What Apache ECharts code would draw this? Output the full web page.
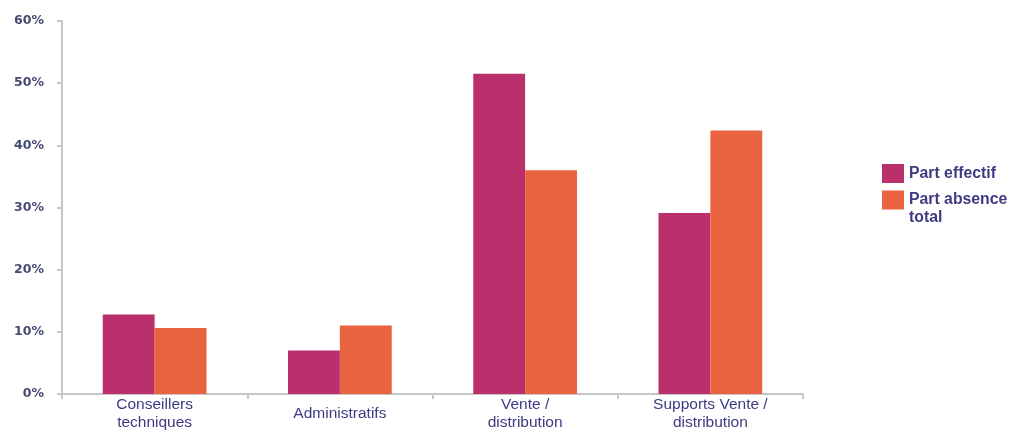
<!DOCTYPE html>
<html>
<head>
<meta charset="utf-8">
<script src="https://cdn.jsdelivr.net/npm/echarts@6/dist/echarts.min.js"></script>
<style>
  html, body { margin: 0; padding: 0; background: #ffffff; overflow: hidden; }
  #chart { width: 1011px; height: 432px; }
</style>
</head>
<body>
<div id="chart"></div>
<script>
// Job categories and the two shares (in %) per category
const categories = ['Conseillers\ntechniques', 'Administratifs', 'Vente /\ndistribution', 'Supports Vente /\ndistribution'];
const partEffectif = [12.8, 7.0, 51.5, 29.1];
const partAbsenceTotal = [10.6, 11.0, 36.0, 42.4];
const seriesNames = ['Part effectif', 'Part absence total'];

const axisGray = '#c6c6c6';
const labelBlue = '#3d3a82';

// single-line category labels sit centred in the two-line label band
const categoryData = categories.map(c =>
  c.indexOf('\n') === -1 ? { value: c, textStyle: { lineHeight: 36 } } : c
);

const chart = echarts.init(document.getElementById('chart'), null, { renderer: 'canvas' });
chart.setOption({
  animation: false,
  backgroundColor: '#ffffff',
  grid: { left: 62, right: 208, top: 21, bottom: 35, containLabel: false },
  legend: {
    orient: 'vertical',
    left: 882,
    top: 164,
    padding: 0,
    itemWidth: 22,
    itemHeight: 19,
    itemGap: -10,
    icon: 'rect',
    selectedMode: false,
    // first line of the wrapped name stays level with its swatch
    formatter: name => name === 'Part absence total' ? ' \nPart absence\ntotal' : name,
    textStyle: {
      fontFamily: 'Liberation Sans, Arial, sans-serif',
      fontWeight: 'bold',
      fontSize: 15.8,
      lineHeight: 18,
      color: labelBlue
    },
    data: seriesNames
  },
  xAxis: {
    type: 'category',
    data: categoryData,
    axisLine: { lineStyle: { color: axisGray, width: 2 } },
    axisTick: { show: true, length: 5, lineStyle: { color: axisGray, width: 2 } },
    axisLabel: {
      margin: 2,
      interval: 0,
      fontFamily: 'Liberation Sans, Arial, sans-serif',
      fontSize: 15.5,
      lineHeight: 18,
      color: labelBlue
    }
  },
  yAxis: {
    type: 'value',
    min: 0,
    max: 60,
    interval: 10,
    splitLine: { show: false },
    axisLine: { show: true, lineStyle: { color: axisGray, width: 2 } },
    axisTick: { show: true, length: 5, lineStyle: { color: axisGray, width: 2 } },
    axisLabel: {
      margin: 18,
      padding: [4, 0, 0, 0],
      formatter: '{value}%',
      fontFamily: 'DejaVu Sans, Verdana, sans-serif',
      fontWeight: 'bold',
      fontSize: 12.5,
      color: '#454a72'
    }
  },
  series: [
    {
      name: seriesNames[0],
      type: 'bar',
      data: partEffectif,
      barGap: '0%',
      barCategoryGap: '44%',
      itemStyle: { color: '#b9306c' }
    },
    {
      name: seriesNames[1],
      type: 'bar',
      data: partAbsenceTotal,
      itemStyle: { color: '#ea6340' }
    }
  ]
});
</script>
</body>
</html>
